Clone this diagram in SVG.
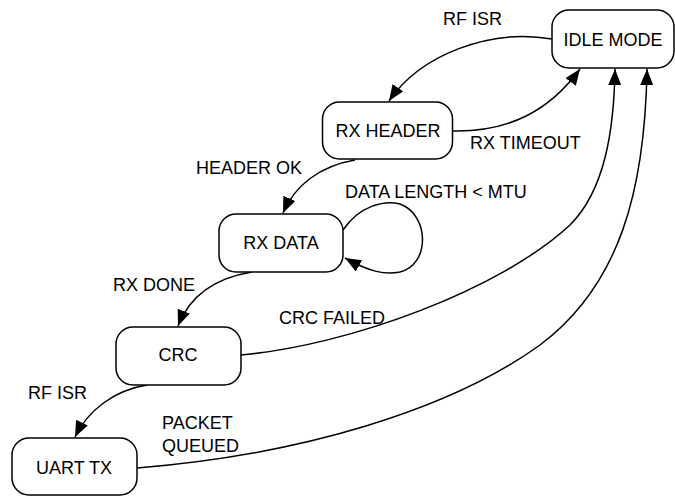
<svg xmlns="http://www.w3.org/2000/svg" width="675" height="497" viewBox="0 0 675 497">
<style>
.node rect{fill:#fff;stroke:#000;stroke-width:1.5}
text{font-family:"Liberation Sans",Arial,sans-serif;font-size:18px;fill:#000}
.nt{text-anchor:middle}
.edge{fill:none;stroke:#000;stroke-width:1.5;marker-end:url(#arr)}
</style>
<defs>
<marker id="arr" markerUnits="userSpaceOnUse" markerWidth="18" markerHeight="14" refX="16" refY="6.5" orient="auto">
<path d="M0,0 L16,6.5 L0,13 z" fill="#000"/>
</marker>
</defs>
<rect width="675" height="497" fill="#fff"/>
<g id="connectors">
<path class="edge" d="M552,39 C490,28 420,55 389,101"/>
<path class="edge" d="M453,131 C510,132 550,110 580,69"/>
<path class="edge" d="M355,160 C320,166 295,185 283,213"/>
<path class="edge" d="M343,230 C360,205 385,200 400,204 C430,215 430,265 400,272 C385,275 370,272 345,258"/>
<path class="edge" d="M252,272 C215,278 190,295 178,326"/>
<path class="edge" d="M241,355 C350,345 500,290 570,225 C605,190 614,130 615,69"/>
<path class="edge" d="M147,385 C115,390 88,410 75,437"/>
<path class="edge" d="M137,468 C300,455 450,410 540,345 C620,285 645,190 647,69"/>
</g>
<g id="labels">
<text x="443" y="25">RF ISR</text>
<text x="470" y="149">RX TIMEOUT</text>
<text x="196" y="174">HEADER OK</text>
<text x="345" y="198">DATA LENGTH &lt; MTU</text>
<text x="113" y="291">RX DONE</text>
<text x="279" y="324">CRC FAILED</text>
<text x="28" y="399">RF ISR</text>
<text x="162" y="429">PACKET</text>
<text x="162" y="452">QUEUED</text>
</g>
<g id="idle" class="node"><rect x="552" y="10" width="122" height="58" rx="17"/><text class="nt" x="613" y="46">IDLE MODE</text></g>
<g id="rxheader" class="node"><rect x="322.5" y="102" width="130" height="57" rx="17"/><text class="nt" x="388" y="137">RX HEADER</text></g>
<g id="rxdata" class="node"><rect x="219" y="214" width="124" height="58" rx="17"/><text class="nt" x="281" y="249">RX DATA</text></g>
<g id="crc" class="node"><rect x="116" y="327" width="125" height="58" rx="17"/><text class="nt" x="178" y="361">CRC</text></g>
<g id="uart" class="node"><rect x="12" y="438" width="125" height="57" rx="17"/><text class="nt" x="74" y="474">UART TX</text></g>
</svg>
